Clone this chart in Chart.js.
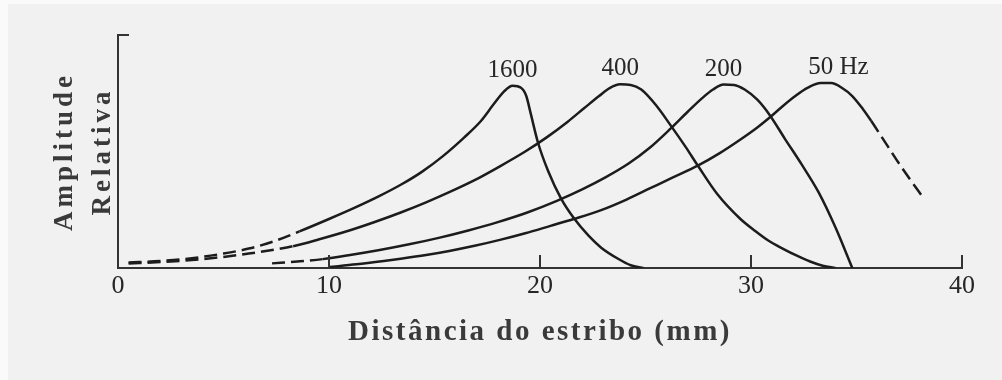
<!DOCTYPE html>
<html>
<head>
<meta charset="utf-8">
<script src="https://cdn.jsdelivr.net/npm/chart.js@4.4.1/dist/chart.umd.min.js"></script>
<style>
  html, body { margin: 0; padding: 0; background: #fafafa; }
  #wrap { position: absolute; left: 8px; top: 4px; width: 994px; height: 376px; background: #f1f1f1; }
  #box { position: absolute; left: -8px; top: -4px; width: 1002px; height: 380px; }
</style>
</head>
<body>
<div id="wrap"><div id="box"><canvas id="grafico" width="1002" height="380"></canvas></div></div>
<script>
// curvas de amplitude relativa ao longo da cóclea (distância do estribo)
const xTicks = [0, 10, 20, 30, 40];
const rotulos = ['1600', '400', '200', '50 Hz'];

const dist1600 = [0.5, 2.0, 3.5, 5.0, 6.2, 7.4, 8.6, 10.0, 11.2, 12.4, 13.4, 14.4, 15.4, 16.4, 17.2, 17.8, 18.3, 18.7, 19.1, 19.35, 19.55, 19.9, 20.4, 21.0, 21.6, 22.3, 22.9, 23.7, 24.3, 24.9];
const amp1600  = [3, 3.8, 5.3, 7.8, 10.5, 14.5, 19.8, 26.5, 32.5, 39, 45, 52, 60.5, 70.5, 79.5, 88.5, 95.5, 98.5, 97.5, 93, 84, 68, 52, 37.5, 27, 17.5, 11, 5, 1.5, 0];

const dist400 = [0.5, 2.0, 3.5, 5.0, 6.2, 7.4, 8.3, 9.5, 11.0, 12.2, 13.4, 14.6, 15.7, 16.9, 18.1, 19.3, 20.3, 21.3, 22.1, 22.8, 23.3, 23.8, 24.3, 24.8, 25.5, 26.2, 26.9, 27.5, 28.4, 29.5, 30.2, 30.8, 31.5, 32.2, 32.8, 33.4, 34.0];
const amp400  = [2.5, 3.2, 4.3, 6.0, 7.8, 9.9, 11.8, 15.4, 20.4, 25, 30, 35.5, 41, 47.5, 55, 63, 70.5, 79, 86.5, 93, 97.3, 99.3, 99, 96.5, 88, 77, 65.5, 55, 40, 26.5, 20, 15, 10.5, 6.5, 3.5, 1.2, 0];

const dist200 = [7.3, 8.5, 9.7, 11.0, 12.4, 13.8, 15.2, 16.6, 18.0, 19.4, 20.8, 22.0, 23.1, 24.2, 25.2, 26.2, 27.0, 27.7, 28.2, 28.7, 29.2, 29.7, 30.3, 30.9, 31.6, 32.4, 33.2, 34.0, 34.8];
const amp200  = [2.5, 3.5, 4.8, 7, 9.7, 12.8, 16.3, 20.3, 24.8, 30, 36.3, 42.5, 49, 56.5, 65, 75.5, 84.5, 92, 96.5, 99.2, 99, 96.5, 91, 82.5, 70, 56, 41, 22, 0];

const dist50 = [10.0, 11.3, 12.6, 13.4, 14.6, 15.7, 16.9, 18.1, 19.3, 20.5, 21.6, 22.9, 24.1, 25.2, 26.3, 27.5, 28.5, 29.5, 30.3, 30.9, 31.5, 32.1, 32.7, 33.3, 33.8, 34.3, 34.8, 35.3, 35.7, 36.3, 36.9, 37.5, 38.1];
const amp50  = [0.5, 2, 3.8, 5, 7, 9.2, 12, 15.2, 18.8, 22.8, 26.5, 31.3, 37, 43, 49, 55.5, 62, 69.5, 76, 81.5, 87.5, 93, 97.5, 100, 100, 97.5, 93, 86, 79.5, 69, 58.5, 48.5, 39];

// trechos tracejados (até / a partir de)
const tracoAte = [8.6, 8.3, 9.7, null];
const tracoDesde = [null, null, null, 35.6];

const series = [[dist1600, amp1600], [dist400, amp400], [dist200, amp200], [dist50, amp50]];
const COR = '#1c1c1c';
const FONTE = "'Liberation Serif', 'DejaVu Serif', serif";
const espaco = { x: '2.5px', y: '4px' };

const datasets = series.map(([xs, ys], i) => ({
  label: rotulos[i],
  data: xs.map((x, k) => ({ x: x, y: ys[k] })),
  borderColor: COR,
  borderWidth: 2.5,
  pointRadius: 0,
  fill: false,
  cubicInterpolationMode: 'monotone',
  segment: {
    borderDash: ctx => {
      const a = tracoAte[i], d = tracoDesde[i];
      if (a !== null && ctx.p1.parsed.x <= a) return [13, 6];
      if (d !== null && ctx.p0.parsed.x >= d) return [13, 6];
      return undefined;
    }
  }
}));

// rótulos acima dos picos + marcas do eixo
const extras = {
  id: 'extras',
  beforeDraw(chart) {
    // títulos dos eixos com letras mais espaçadas, como no original
    ['x', 'y'].forEach(id => {
      const s = chart.scales[id];
      if (s._espacado) return;
      const orig = s.drawTitle.bind(s);
      s.drawTitle = () => {
        chart.ctx.save();
        chart.ctx.letterSpacing = espaco[id];
        orig();
        chart.ctx.restore();
      };
      s._espacado = true;
    });
  },
  afterDatasetsDraw(chart) {
    const { ctx, scales: { x, y }, chartArea } = chart;
    ctx.save();
    ctx.fillStyle = '#262626';
    ctx.font = '25px ' + FONTE;
    ctx.textBaseline = 'alphabetic';
    ctx.textAlign = 'left';
    chart.data.datasets.forEach(ds => {
      let pico = ds.data[0];
      ds.data.forEach(p => { if (p.y > pico.y) pico = p; });
      const primeira = ds.label.split(' ')[0];
      const w = ctx.measureText(primeira).width;
      ctx.fillText(ds.label, x.getPixelForValue(pico.x) - w / 2, y.getPixelForValue(pico.y) - 9);
    });
    // marcas internas do eixo x
    ctx.strokeStyle = '#333';
    ctx.lineWidth = 2;
    xTicks.slice(1).forEach(v => {
      const px = x.getPixelForValue(v);
      ctx.beginPath();
      ctx.moveTo(px, chartArea.bottom);
      ctx.lineTo(px, chartArea.bottom - 13);
      ctx.stroke();
    });
    // pequena marca no topo do eixo y
    ctx.beginPath();
    ctx.moveTo(chartArea.left, chartArea.top);
    ctx.lineTo(chartArea.left + 11, chartArea.top);
    ctx.stroke();
    ctx.restore();
  }
};

const grafico = new Chart(document.getElementById('grafico').getContext('2d'), {
  type: 'line',
  data: { datasets },
  plugins: [extras],
  options: {
    responsive: false,
    animation: false,
    events: [],
    layout: { padding: { left: 0, right: 40, top: 35, bottom: 0 } },
    plugins: { legend: { display: false }, tooltip: { enabled: false } },
    scales: {
      x: {
        type: 'linear',
        min: 0,
        max: 40,
        afterFit: s => { s.height = 112; },
        afterBuildTicks: s => { s.ticks = xTicks.map(v => ({ value: v })); },
        grid: { display: false, drawTicks: false },
        border: { display: true, color: '#333', width: 2 },
        ticks: { padding: 3, color: '#262626', font: { family: FONTE, size: 26 } },
        title: {
          display: true,
          text: 'Distância do estribo (mm)',
          color: '#3a3a3a',
          font: { family: FONTE, size: 29, weight: 'bold' },
          padding: { top: 0, bottom: 30 }
        }
      },
      y: {
        min: 0,
        max: 126,
        afterFit: s => { s.width = 118; },
        grid: { display: false, drawTicks: false },
        border: { display: true, color: '#333', width: 2 },
        ticks: { display: false },
        title: {
          display: true,
          text: ['Amplitude', 'Relativa'],
          color: '#3a3a3a',
          font: { family: FONTE, size: 27, weight: 'bold', lineHeight: 1.4 },
          padding: { top: 46, bottom: 0 }
        }
      }
    }
  }
});
grafico.draw();
</script>
</body>
</html>
